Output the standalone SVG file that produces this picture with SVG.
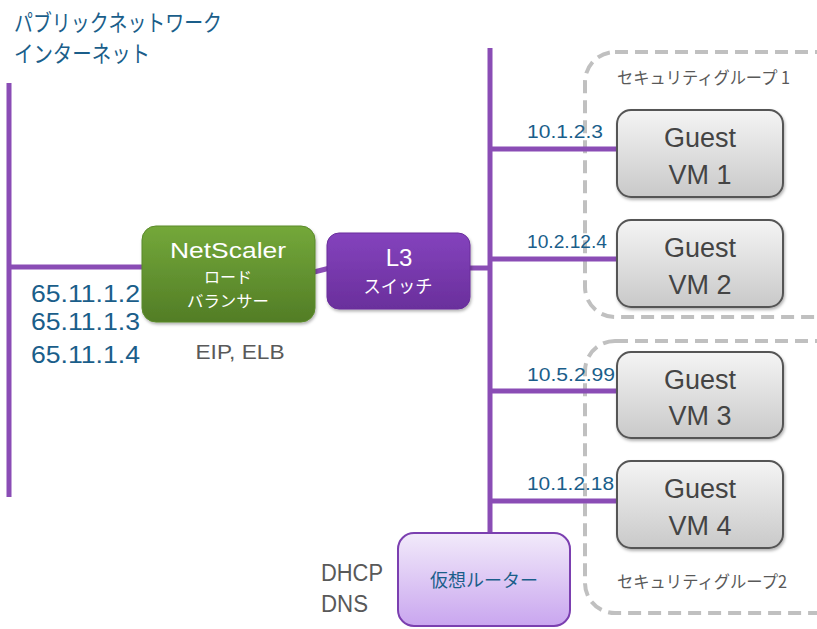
<svg xmlns="http://www.w3.org/2000/svg" width="817" height="629" viewBox="0 0 817 629">
<defs>
<linearGradient id="gGreen" x1="0" y1="0" x2="0" y2="1"><stop offset="0" stop-color="#74a83a"/><stop offset="1" stop-color="#527d26"/></linearGradient>
<linearGradient id="gPurple" x1="0" y1="0" x2="0" y2="1"><stop offset="0" stop-color="#8443bd"/><stop offset="1" stop-color="#6a2f9c"/></linearGradient>
<linearGradient id="gGray" x1="0" y1="0" x2="0" y2="1"><stop offset="0" stop-color="#f4f4f4"/><stop offset="1" stop-color="#c9c9c9"/></linearGradient>
<linearGradient id="gLilac" x1="0" y1="0" x2="0" y2="1"><stop offset="0" stop-color="#f2eafa"/><stop offset="1" stop-color="#c9a6ef"/></linearGradient>
<filter id="sh" x="-10%" y="-10%" width="130%" height="130%"><feDropShadow dx="1" dy="2" stdDeviation="1.5" flood-color="#000" flood-opacity="0.3"/></filter>
</defs>
<style>
.ln{stroke:#8a4db5;stroke-width:5;fill:none}
.grp{fill:none;stroke:#c0c0c0;stroke-width:4;stroke-dasharray:13 7}
.vm{fill:url(#gGray);stroke:#555;stroke-width:2}
.t{font-family:"Liberation Sans","Noto Sans CJK JP",sans-serif}
.j{font-family:"Noto Sans CJK JP","Liberation Sans",sans-serif}
.blue{fill:#1a5e8a}
.gray{fill:#595959}
.vt{font-size:27px;fill:#444;text-anchor:middle}
.ip{font-size:18px;fill:#1a5e8a}
</style>
<g id="groups">
<rect id="secgroup1" class="grp" x="585" y="52" width="260" height="265" rx="30"/>
<rect id="secgroup2" class="grp" x="585" y="341" width="260" height="272" rx="30"/>
<text class="j gray" x="617" y="84" font-size="17" textLength="173" lengthAdjust="spacingAndGlyphs">セキュリティグループ 1</text>
<text class="j gray" x="617" y="588" font-size="17" textLength="170" lengthAdjust="spacingAndGlyphs">セキュリティグループ2</text>
</g>
<g id="connectors">
<line class="ln" x1="9" y1="83" x2="9" y2="497"/>
<line class="ln" x1="9" y1="267" x2="145" y2="267"/>
<line class="ln" x1="314" y1="272" x2="330" y2="268"/>
<line class="ln" x1="468" y1="268" x2="490" y2="268"/>
<line class="ln" x1="490" y1="48" x2="490" y2="535"/>
<line class="ln" x1="490" y1="149" x2="618" y2="149"/>
<line class="ln" x1="490" y1="259" x2="618" y2="259"/>
<line class="ln" x1="490" y1="391" x2="618" y2="391"/>
<line class="ln" x1="490" y1="501" x2="618" y2="501"/>
</g>
<g id="title">
<text class="j blue" x="14" y="31" font-size="23" textLength="208" lengthAdjust="spacingAndGlyphs">パブリックネットワーク</text>
<text class="j blue" x="14" y="62" font-size="23" textLength="136" lengthAdjust="spacingAndGlyphs">インターネット</text>
</g>
<g id="public-ips">
<text class="t blue" x="31" y="302" font-size="24" textLength="109" lengthAdjust="spacingAndGlyphs">65.11.1.2</text>
<text class="t blue" x="31" y="330" font-size="24" textLength="109" lengthAdjust="spacingAndGlyphs">65.11.1.3</text>
<text class="t blue" x="31" y="363" font-size="24" textLength="109" lengthAdjust="spacingAndGlyphs">65.11.1.4</text>
</g>
<g id="netscaler">
<rect x="142" y="226" width="173" height="96" rx="14" fill="url(#gGreen)" stroke="#5a8a2a" stroke-width="1" filter="url(#sh)"/>
<text class="t" x="228" y="258" font-size="22" fill="#fff" text-anchor="middle" textLength="116" lengthAdjust="spacingAndGlyphs">NetScaler</text>
<text class="j" x="228" y="283" font-size="16" fill="#fff" text-anchor="middle">ロード</text>
<text class="j" x="228" y="307" font-size="16" fill="#fff" text-anchor="middle" textLength="82" lengthAdjust="spacingAndGlyphs">バランサー</text>
<text class="t gray" x="240" y="359" font-size="21" text-anchor="middle" textLength="89" lengthAdjust="spacingAndGlyphs">EIP, ELB</text>
</g>
<g id="l3switch">
<rect x="327" y="233" width="143" height="76" rx="12" fill="url(#gPurple)" stroke="#6a2f9c" stroke-width="1" filter="url(#sh)"/>
<text class="t" x="399" y="266" font-size="24" fill="#fff" text-anchor="middle">L3</text>
<text class="j" x="398" y="293" font-size="18" fill="#fff" text-anchor="middle" textLength="69" lengthAdjust="spacingAndGlyphs">スイッチ</text>
</g>
<g id="vm1">
<rect class="vm" x="617" y="110" width="166" height="87" rx="14" filter="url(#sh)"/>
<text class="t vt" x="700" y="147">Guest</text>
<text class="t vt" x="700" y="184">VM 1</text>
<text class="t ip" x="527" y="138" textLength="76" lengthAdjust="spacingAndGlyphs">10.1.2.3</text>
</g>
<g id="vm2">
<rect class="vm" x="617" y="220" width="166" height="87" rx="14" filter="url(#sh)"/>
<text class="t vt" x="700" y="257">Guest</text>
<text class="t vt" x="700" y="294">VM 2</text>
<text class="t ip" x="527" y="248" textLength="80" lengthAdjust="spacingAndGlyphs">10.2.12.4</text>
</g>
<g id="vm3">
<rect class="vm" x="617" y="352" width="166" height="86" rx="14" filter="url(#sh)"/>
<text class="t vt" x="700" y="389">Guest</text>
<text class="t vt" x="700" y="425">VM 3</text>
<text class="t ip" x="527" y="381" textLength="88" lengthAdjust="spacingAndGlyphs">10.5.2.99</text>
</g>
<g id="vm4">
<rect class="vm" x="617" y="461" width="166" height="87" rx="14" filter="url(#sh)"/>
<text class="t vt" x="700" y="498">Guest</text>
<text class="t vt" x="700" y="535">VM 4</text>
<text class="t ip" x="527" y="490" textLength="87" lengthAdjust="spacingAndGlyphs">10.1.2.18</text>
</g>
<g id="router">
<rect x="398" y="533" width="172" height="93" rx="16" fill="url(#gLilac)" stroke="#7b3fb0" stroke-width="2"/>
<text class="j blue" x="484" y="587" font-size="18" text-anchor="middle">仮想ルーター</text>
<text class="t gray" x="321" y="581" font-size="23" textLength="62" lengthAdjust="spacingAndGlyphs">DHCP</text>
<text class="t gray" x="321" y="612" font-size="23" textLength="47" lengthAdjust="spacingAndGlyphs">DNS</text>
</g>
</svg>
